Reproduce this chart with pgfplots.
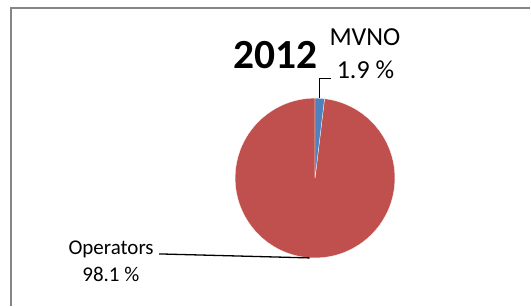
\documentclass[border=0pt]{standalone}
\usepackage{pgfplots}
\pgfplotsset{compat=1.18}
\usepackage{pgfplotstable}
\usepackage{fontspec}
\setmainfont{Carlito}
\definecolor{mvno}{HTML}{4F81BD}
\definecolor{oper}{HTML}{C0504D}
\definecolor{framec}{HTML}{868686}
\pgfplotstableread{
label share
MVNO 1.9
Operators 98.1
}\piedata
\begin{document}
\begin{tikzpicture}
\pgfplotstablegetelem{0}{share}\of\piedata \let\mvnoshare\pgfplotsretval
\pgfplotstablegetelem{1}{share}\of\piedata \let\opshare\pgfplotsretval
\pgfmathsetmacro\mvnoend{90-3.6*\mvnoshare}
\pgfmathsetmacro\opend{\mvnoend-3.6*\opshare}
\begin{axis}[width=531bp,height=306bp,scale only axis,
  xmin=0,xmax=531,ymin=0,ymax=306,hide axis,clip=false]
\path (axis cs:0,0) rectangle (axis cs:531,306);
% frame (only top and left visible)
\draw[framec,line width=1.6bp] (axis cs:11,0) -- (axis cs:11,297.7) -- (axis cs:531,297.7);
% pie
\fill[oper,draw=white,line width=0.3bp] (axis cs:315.5,127.7) -- ++(\mvnoend:80bp) arc[start angle=\mvnoend,end angle=\opend,radius=80bp] -- cycle;
\fill[mvno,draw=white,line width=0.3bp] (axis cs:315.5,127.7) -- ++(90:80bp) arc[start angle=90,end angle=\mvnoend,radius=80bp] -- cycle;
% leader lines
\draw[black,line width=1.3bp] (axis cs:320,207.7) -- (axis cs:320,227.7) -- (axis cs:331,227.7);
\draw[black,line width=1.3bp] (axis cs:310,47.7) -- (axis cs:159.3,51.7);
% title
\node[anchor=base,inner sep=0pt,font=\fontsize{41.5bp}{50bp}\selectfont\bfseries] at (axis cs:275.7,237.7) {2012};
% labels
\node[anchor=base,inner sep=0pt,font=\fontsize{26bp}{32bp}\selectfont] at (axis cs:365.5,260) {MVNO};
\node[anchor=base,inner sep=0pt,font=\fontsize{26bp}{32bp}\selectfont] at (axis cs:366,227) {\mvnoshare~\%};
\node[anchor=base,inner sep=0pt,font=\fontsize{21bp}{26bp}\selectfont] at (axis cs:111.3,51) {Operators};
\node[anchor=base,inner sep=0pt,font=\fontsize{21bp}{26bp}\selectfont] at (axis cs:111,24.3) {\opshare~\%};
\end{axis}
\end{tikzpicture}
\end{document}
